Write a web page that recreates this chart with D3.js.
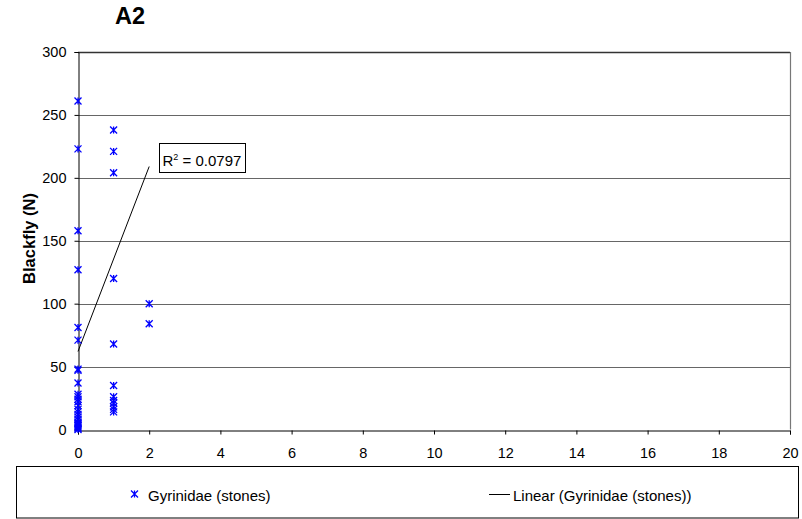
<!DOCTYPE html>
<html><head><meta charset="utf-8">
<script src="https://cdn.jsdelivr.net/npm/d3@7"></script>
<style>body{margin:0;background:#fff;}svg{display:block;font-family:"Liberation Sans",Arial,sans-serif;}</style>
</head><body>
<svg id="c" width="802" height="519"></svg>
<script>
const xTicks = [0,2,4,6,8,10,12,14,16,18,20];
const yTicks = [0,50,100,150,200,250,300];
const seriesX = [0,0,0,0,0,0,0,0,0,0,0,0,0,0,0,0,0,0,0,0,0,0,0,0,0,0,
                 1,1,1,1,1,1,1,1,1,1,1,1,
                 2,2];
const seriesY = [261,223,158,127,81,71,48,47,37,28,26,24,22,19,16,14,12,10,8,6,5,4,3,2,1,0,
                 238,221,204,120,68,35,26,23,21,18,16,14,
                 100,84];
const trendX = [0,2];
const trendY = [62,209];
const rSquared = "0.0797";
const seriesName = "Gyrinidae (stones)";
const trendName = "Linear (Gyrinidae (stones))";
const chartTitle = "A2";
const yTitle = "Blackfly (N)";

const FS = 14.5;
const LFS = 15;
const svg = d3.select("#c");
const x = d3.scaleLinear().domain([0,20]).range([78,790]);
const y = d3.scaleLinear().domain([0,300]).range([429.5,52]);

// gridlines
svg.append("g").selectAll("line").data(yTicks.filter(d=>d>0)).join("line")
  .attr("x1",x(0)).attr("x2",x(20)).attr("y1",d=>Math.round(y(d))+0.5).attr("y2",d=>Math.round(y(d))+0.5)
  .attr("stroke",d=>d===300?"#333":"#666").attr("stroke-width",d=>d===300?1.6:1);
// right border
svg.append("line").attr("x1",x(20)+0.5).attr("x2",x(20)+0.5).attr("y1",y(300)).attr("y2",y(0))
  .attr("stroke","#777").attr("stroke-width",1.2);

// axes
const yAxis = svg.append("g").attr("transform",`translate(${x(0)+0.5},0)`)
  .call(d3.axisLeft(y).tickValues(yTicks).tickSize(4).tickPadding(8).tickFormat(d3.format("d")));
const xAxis = svg.append("g").attr("transform",`translate(0,${Math.round(y(0))+0.5})`)
  .call(d3.axisBottom(x).tickValues(xTicks).tickSize(4).tickPadding(13).tickFormat(d3.format("d")));
[yAxis,xAxis].forEach(a=>{
  a.select(".domain").attr("stroke","#000");
  a.selectAll(".tick line").attr("stroke","#000");
  a.selectAll("text").attr("font-size",FS).attr("fill","#000").attr("font-family","Liberation Sans, Arial, sans-serif");
});

// trendline
svg.append("line").attr("x1",x(trendX[0])).attr("y1",y(trendY[0])).attr("x2",x(trendX[1])).attr("y2",y(trendY[1]))
  .attr("stroke","#000").attr("stroke-width",1);

// markers (star)
function star(g, cx, cy, s){
  g.append("path").attr("d",`M${cx-s},${cy-s}L${cx+s},${cy+s}M${cx-s},${cy+s}L${cx+s},${cy-s}M${cx},${cy-s}L${cx},${cy+s}`)
   .attr("stroke","#0000ff").attr("stroke-width",1.3).attr("fill","none");
}
const pts = svg.append("g");
seriesX.forEach((v,i)=>star(pts, x(v), y(seriesY[i]), 3.5));

// R^2 box
const rb = svg.append("g");
rb.append("rect").attr("x",159.5).attr("y",143.5).attr("width",86).attr("height",29)
  .attr("fill","#fff").attr("stroke","#000").attr("stroke-width",1);
const rt = rb.append("text").attr("x",162.5).attr("y",166).attr("font-size",LFS).attr("fill","#000");
rt.append("tspan").text("R");
rt.append("tspan").attr("font-size",9).attr("dy",-6).text("2");
rt.append("tspan").attr("dy",6).text(" = " + rSquared);

// titles
svg.append("text").attr("x",130).attr("y",24).attr("text-anchor","middle").attr("font-size",23.5)
  .attr("font-weight","bold").text(chartTitle);
svg.append("text").attr("transform","translate(35,238.5) rotate(-90)").attr("text-anchor","middle")
  .attr("font-size",16.5).attr("font-weight","bold").text(yTitle);

// legend
const lg = svg.append("g");
lg.append("rect").attr("x",16.5).attr("y",466.5).attr("width",782).attr("height",51.5)
  .attr("fill","#fff").attr("stroke","#000").attr("stroke-width",1);
star(lg, 134.5, 494, 3.5);
lg.append("text").attr("x",148).attr("y",501).attr("font-size",LFS).text(seriesName);
lg.append("line").attr("x1",489).attr("x2",510).attr("y1",494.5).attr("y2",494.5).attr("stroke","#000");
lg.append("text").attr("x",513).attr("y",501).attr("font-size",LFS).text(trendName);
</script>
</body></html>
